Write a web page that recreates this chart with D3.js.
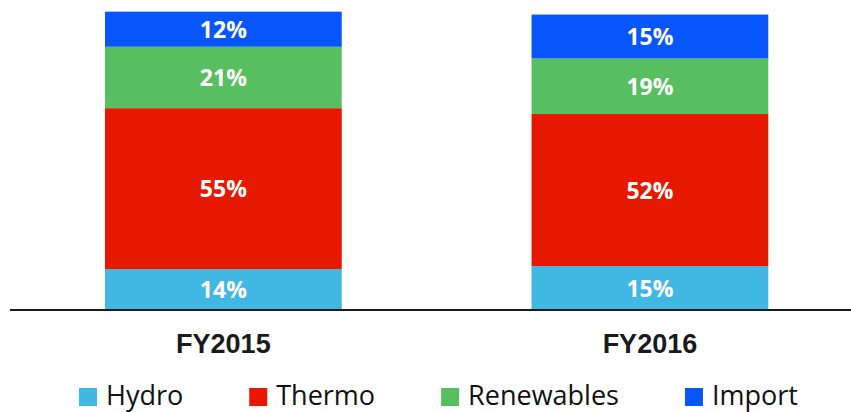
<!DOCTYPE html>
<html>
<head>
<meta charset="utf-8">
<script src="https://cdn.jsdelivr.net/npm/d3@7"></script>
<style>
  body { margin: 0; background: #fff; }
  svg { display: block; }
</style>
</head>
<body>
<svg id="vis" width="851" height="412"></svg>
<script>
const years = ['FY2015', 'FY2016']
const sources = ['Hydro', 'Thermo', 'Renewables', 'Import']
const hydro = [14, 15]
const thermo = [55, 52]
const renewables = [21, 19]
const imports = [12, 15]
const colors = ['#41b8e4', '#e61800', '#57bf5f', '#0656fb']

const rows = years.map((year, i) => ({
  year,
  Hydro: hydro[i],
  Thermo: thermo[i],
  Renewables: renewables[i],
  Import: imports[i]
}))

const svg = d3.select('#vis')

const x = d3.scaleBand()
  .domain(years)
  .range([19.7, 853.6])
  .paddingInner(0.445)
  .paddingOuter(0.2)

const y = d3.scaleLinear()
  .domain([0, 100])
  .range([310, 17.5])

const color = d3.scaleOrdinal()
  .domain(sources)
  .range(colors)

const stacked = d3.stack().keys(sources)(rows)

const layers = svg.selectAll('g.layer')
  .data(stacked)
  .enter()
  .append('g')
  .attr('class', 'layer')
  .attr('fill', d => color(d.key))

layers.selectAll('rect')
  .data(d => d)
  .enter()
  .append('rect')
  .attr('x', d => x(d.data.year))
  .attr('y', d => y(d[1]))
  .attr('width', x.bandwidth())
  .attr('height', d => y(d[0]) - y(d[1]))

layers.selectAll('text')
  .data(d => d)
  .enter()
  .append('text')
  .attr('x', d => x(d.data.year) + x.bandwidth() / 2)
  .attr('y', d => (y(d[0]) + y(d[1])) / 2)
  .attr('dy', '0.38em')
  .attr('text-anchor', 'middle')
  .attr('fill', '#fff')
  .style('font-family', '"Open Sans", sans-serif')
  .style('font-weight', 'bold')
  .style('font-size', '23px')
  .text(d => (d[1] - d[0]) + '%')

// baseline
svg.append('line')
  .attr('x1', 10)
  .attr('x2', 851)
  .attr('y1', y(0))
  .attr('y2', y(0))
  .attr('stroke', '#1a1a1a')
  .attr('stroke-width', 2)

// category labels
svg.selectAll('text.cat')
  .data(years)
  .enter()
  .append('text')
  .attr('class', 'cat')
  .attr('x', d => x(d) + x.bandwidth() / 2)
  .attr('y', 353)
  .attr('text-anchor', 'middle')
  .attr('fill', '#1a1a1a')
  .style('font-family', '"Liberation Sans", Arial, sans-serif')
  .style('font-weight', 'bold')
  .style('font-size', '27px')
  .text(d => d)

// legend
const legend = svg.append('g').attr('class', 'legend')
let lx = 79
sources.forEach(s => {
  const item = legend.append('g').attr('transform', `translate(${lx},0)`)
  item.append('rect')
    .attr('x', 0)
    .attr('y', 388)
    .attr('width', 18)
    .attr('height', 18)
    .attr('fill', color(s))
  const t = item.append('text')
    .attr('x', 27)
    .attr('y', 405)
    .attr('fill', '#111')
    .style('font-family', '"Open Sans", sans-serif')
    .style('font-size', '27px')
    .text(s)
  lx += 27 + t.node().getComputedTextLength() + 66
})
</script>
</body>
</html>
